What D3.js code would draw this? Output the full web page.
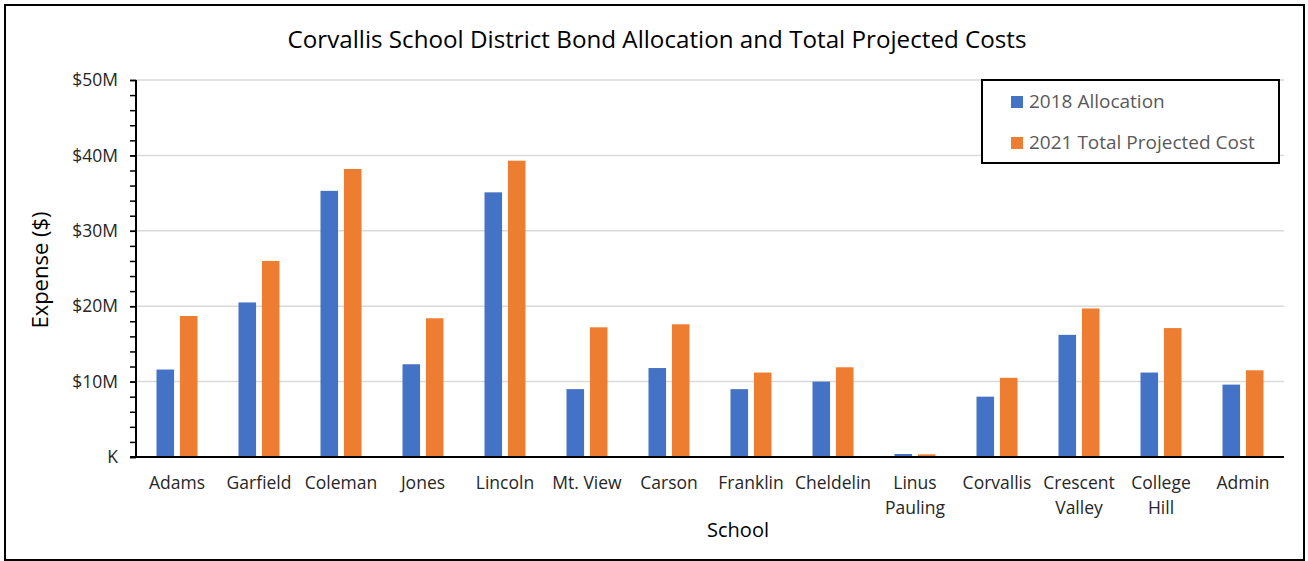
<!DOCTYPE html>
<html lang="en">
<head>
    <script src="https://d3js.org/d3.v7.min.js"></script>
    <style>
        body { margin: 0; background: white; }
        text { font-family: "Open Sans", "Noto Sans", sans-serif; }
    </style>
</head>
<body>
<div id="chart"></div>
<script>
    // data (millions of dollars)
    const schools = ["Adams", "Garfield", "Coleman", "Jones", "Lincoln", "Mt. View", "Carson",
        "Franklin", "Cheldelin", "Linus Pauling", "Corvallis", "Crescent Valley", "College Hill", "Admin"]
    const schoolLines = [["Adams"], ["Garfield"], ["Coleman"], ["Jones"], ["Lincoln"], ["Mt. View"], ["Carson"],
        ["Franklin"], ["Cheldelin"], ["Linus", "Pauling"], ["Corvallis"], ["Crescent", "Valley"], ["College", "Hill"], ["Admin"]]
    const seriesNames = ["2018 Allocation", "2021 Total Projected Cost"]
    const allocation2018 = [11.6, 20.5, 35.3, 12.3, 35.1, 9.0, 11.8, 9.0, 10.0, 0.4, 8.0, 16.2, 11.2, 9.6]
    const projected2021 = [18.7, 26.0, 38.2, 18.4, 39.3, 17.2, 17.6, 11.2, 11.9, 0.35, 10.5, 19.7, 17.1, 11.5]
    const yTicks = [0, 10, 20, 30, 40, 50]
    const yTickLabels = ["K", "$10M", "$20M", "$30M", "$40M", "$50M"]

    const width = 1308
    const height = 561
    const plotLeft = 136, plotRight = 1284, plotTop = 80, plotBottom = 457
    const colors = ["#4472C4", "#ED7D31"]

    const svg = d3.select("#chart").append("svg")
        .attr("width", width)
        .attr("height", height)

    svg.append("rect")
        .attr("x", 5).attr("y", 5)
        .attr("width", 1299).attr("height", 555)
        .attr("fill", "white")
        .attr("stroke", "#000")
        .attr("stroke-width", 2)

    const x = d3.scaleBand().domain(schools).range([plotLeft, plotRight])
    const x1 = d3.scaleBand().domain(seriesNames)
        .range([x.bandwidth() / 4, x.bandwidth() * 3 / 4])
        .paddingInner(0.25)
    const y = d3.scaleLinear().domain([0, 50]).range([plotBottom, plotTop])

    // gridlines
    svg.append("g")
        .selectAll("line")
        .data(yTicks.filter(d => d > 0))
        .join("line")
        .attr("x1", plotLeft).attr("x2", plotRight)
        .attr("y1", d => y(d)).attr("y2", d => y(d))
        .attr("stroke", "#d9d9d9")
        .attr("stroke-width", 1.5)

    // bars
    const rows = schools.map((s, i) => ({school: s, vals: [allocation2018[i], projected2021[i]]}))
    svg.append("g")
        .selectAll("g")
        .data(rows)
        .join("g")
        .attr("transform", d => "translate(" + x(d.school) + ",0)")
        .selectAll("rect")
        .data(d => d.vals.map((v, j) => ({key: seriesNames[j], v: v, j: j})))
        .join("rect")
        .attr("x", d => x1(d.key))
        .attr("width", x1.bandwidth())
        .attr("y", d => y(d.v))
        .attr("height", d => y(0) - y(d.v))
        .attr("fill", d => colors[d.j])

    // y axis with minor ticks
    const yMinor = d3.axisLeft(y).ticks(25).tickSize(6).tickFormat("")
    svg.append("g")
        .attr("transform", "translate(" + plotLeft + ",0)")
        .call(yMinor)
        .call(g => g.select(".domain").remove())
        .call(g => g.selectAll("line").attr("stroke", "#000").attr("stroke-width", 1.5))

    const yAxis = d3.axisLeft(y).tickValues(yTicks).tickSize(6)
        .tickFormat((d, i) => yTickLabels[i])
    svg.append("g")
        .attr("transform", "translate(" + plotLeft + ",0)")
        .call(yAxis)
        .call(g => g.select(".domain").attr("stroke", "#000").attr("stroke-width", 2).attr("d", "M0," + plotTop + "V" + plotBottom))
        .call(g => g.selectAll("line").attr("stroke", "#000").attr("stroke-width", 1.5))
        .call(g => g.selectAll("text")
            .attr("x", -18)
            .attr("font-size", 17.5)
            .attr("fill", "#262626"))

    // x axis
    svg.append("line")
        .attr("x1", plotLeft - 6).attr("x2", plotRight)
        .attr("y1", plotBottom).attr("y2", plotBottom)
        .attr("stroke", "#000")
        .attr("stroke-width", 2)

    svg.append("g")
        .selectAll("text")
        .data(schools)
        .join("text")
        .attr("x", d => x(d) + x.bandwidth() / 2)
        .attr("y", 489)
        .attr("text-anchor", "middle")
        .attr("font-size", 17.5)
        .attr("fill", "#262626")
        .each(function(d, i) {
            d3.select(this).selectAll("tspan")
                .data(schoolLines[i])
                .join("tspan")
                .attr("x", x(d) + x.bandwidth() / 2)
                .attr("dy", (t, k) => k === 0 ? 0 : 25)
                .text(t => t)
        })

    // title and axis titles
    svg.append("text")
        .attr("x", 657).attr("y", 48)
        .attr("text-anchor", "middle")
        .attr("font-size", 24.2)
        .attr("fill", "#000")
        .text("Corvallis School District Bond Allocation and Total Projected Costs")

    svg.append("text")
        .attr("transform", "translate(48,270) rotate(-90)")
        .attr("text-anchor", "middle")
        .attr("font-size", 22)
        .attr("fill", "#000")
        .text("Expense ($)")

    svg.append("text")
        .attr("x", 738).attr("y", 537)
        .attr("text-anchor", "middle")
        .attr("font-size", 20)
        .attr("fill", "#000")
        .text("School")

    // legend
    const legend = svg.append("g")
    legend.append("rect")
        .attr("x", 982).attr("y", 80)
        .attr("width", 297).attr("height", 83)
        .attr("fill", "white")
        .attr("stroke", "#000")
        .attr("stroke-width", 2)
    legend.selectAll("rect.key")
        .data(seriesNames)
        .join("rect")
        .attr("class", "key")
        .attr("x", 1011)
        .attr("y", (d, i) => 96 + i * 41)
        .attr("width", 12).attr("height", 12)
        .attr("fill", (d, i) => colors[i])
    legend.selectAll("text")
        .data(seriesNames)
        .join("text")
        .attr("x", 1029)
        .attr("y", (d, i) => 108 + i * 41)
        .attr("font-size", 19)
        .attr("fill", "#595959")
        .text(d => d)
</script>
</body>
</html>
